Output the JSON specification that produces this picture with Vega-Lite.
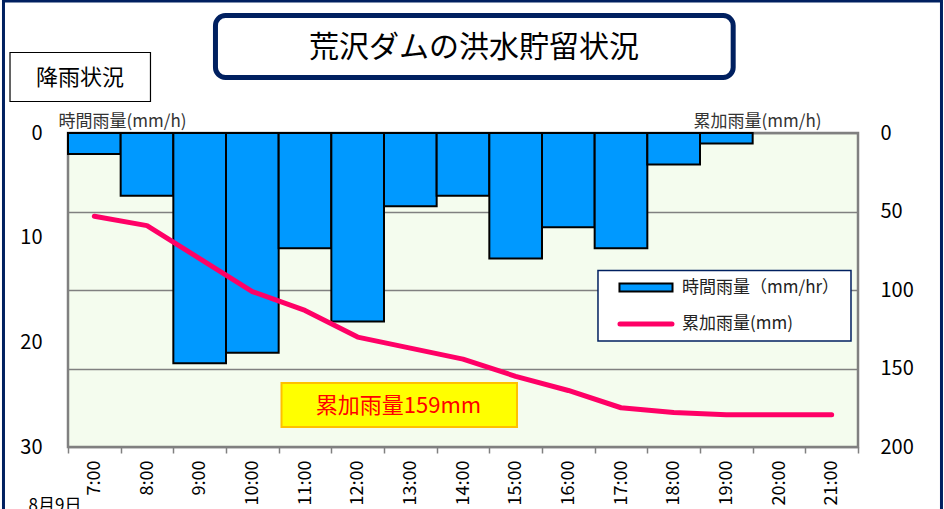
{
  "$schema": "https://vega.github.io/schema/vega-lite/v6.json",
  "width": 790,
  "height": 314,
  "autosize": {"type": "none"},
  "padding": {"left": 68, "top": 133, "right": 86, "bottom": 62},
  "background": "white",
  "config": {
    "font": "Noto Sans CJK JP",
    "view": {"fill": "#F4FCEE", "stroke": "#808080", "strokeWidth": 2.5},
    "axis": {"labelFont": "Noto Sans CJK JP", "titleFont": "Noto Sans CJK JP", "labelColor": "black"}
  },
  "data": {
    "values": [
      {"hour": "7:00", "rain": 2, "cum": 53},
      {"hour": "8:00", "rain": 6, "cum": 59},
      {"hour": "9:00", "rain": 22, "cum": 80},
      {"hour": "10:00", "rain": 21, "cum": 101},
      {"hour": "11:00", "rain": 11, "cum": 113},
      {"hour": "12:00", "rain": 18, "cum": 130},
      {"hour": "13:00", "rain": 7, "cum": 137},
      {"hour": "14:00", "rain": 6, "cum": 144},
      {"hour": "15:00", "rain": 12, "cum": 155},
      {"hour": "16:00", "rain": 9, "cum": 164},
      {"hour": "17:00", "rain": 11, "cum": 175},
      {"hour": "18:00", "rain": 3, "cum": 178},
      {"hour": "19:00", "rain": 1, "cum": 179.5},
      {"hour": "20:00", "rain": 0, "cum": 179.5},
      {"hour": "21:00", "rain": 0, "cum": 179.5}
    ]
  },
  "layer": [
    {
      "data": {"values": [{"t": "frame"}]},
      "mark": {"type": "rect", "filled": false, "stroke": "#002060", "strokeWidth": 3, "clip": false},
      "encoding": {
        "x": {"datum": -1.225, "type": "quantitative", "scale": {"domain": [0, 15], "nice": false, "zero": false}, "axis": null},
        "x2": {"datum": 16.585},
        "y": {"datum": -84.08, "type": "quantitative", "scale": {"domain": [0, 200], "reverse": true, "nice": false, "zero": false}, "axis": null},
        "y2": {"datum": 297}
      }
    },
    {
      "mark": {"type": "bar", "fill": "#0099FF", "stroke": "black", "strokeWidth": 2},
      "encoding": {
        "x": {
          "field": "hour", "type": "ordinal", "sort": null,
          "scale": {"paddingInner": 0, "paddingOuter": 0},
          "axis": {"title": null, "labelAngle": -90, "labelFontSize": 18, "labelPadding": 7, "tickBand": "extent", "tickSize": 6, "tickColor": "#808080", "tickWidth": 1.5, "domain": false}
        },
        "y": {
          "field": "rain", "type": "quantitative",
          "scale": {"domain": [0, 30], "reverse": true, "nice": false},
          "axis": {"values": [0, 10, 20, 30], "grid": false, "domain": false, "ticks": false, "labelPadding": 26, "labelFontSize": 20,
            "title": "時間雨量(mm/h)", "titleAngle": 0, "titleAlign": "left", "titleBaseline": "middle", "titleX": -10, "titleY": -12,
            "titleFontSize": 17, "titleFontWeight": "normal", "titleColor": "#333333"}
        },
        "strokeOpacity": {"condition": {"test": "datum.rain == 0", "value": 0}, "value": 1}
      }
    },
    {
      "mark": {"type": "line", "stroke": "#FF0066", "strokeWidth": 5, "strokeCap": "round", "strokeJoin": "round"},
      "encoding": {
        "x": {"field": "hour", "type": "ordinal", "sort": null, "scale": {"paddingInner": 0, "paddingOuter": 0}, "axis": null},
        "y": {
          "field": "cum", "type": "quantitative",
          "scale": {"domain": [0, 200], "reverse": true, "nice": false},
          "axis": {"orient": "right", "values": [0, 50, 100, 150, 200], "grid": true, "gridColor": "#808080", "gridWidth": 1.5,
            "domain": false, "ticks": false, "labelPadding": 22, "labelFontSize": 20,
            "title": "累加雨量(mm/h)", "titleAngle": 0, "titleAlign": "right", "titleBaseline": "middle", "titleX": -37, "titleY": -12,
            "titleFontSize": 17, "titleFontWeight": "normal", "titleColor": "#333333"}
        }
      }
    },
    {
      "data": {"values": [{"t": "title"}]},
      "mark": {"type": "rect", "fill": "white", "stroke": "#002060", "strokeWidth": 5, "cornerRadius": 10, "clip": false},
      "encoding": {
        "x": {"datum": 2.8, "type": "quantitative", "scale": {"domain": [0, 15], "nice": false, "zero": false}, "axis": null},
        "x2": {"datum": 12.63},
        "y": {"datum": -74.8, "type": "quantitative", "scale": {"domain": [0, 200], "reverse": true, "nice": false, "zero": false}, "axis": null},
        "y2": {"datum": -35.4}
      }
    },
    {
      "data": {"values": [{"t": "荒沢ダムの洪水貯留状況"}]},
      "mark": {"type": "text", "fontSize": 30, "align": "center", "baseline": "middle", "color": "black", "clip": false},
      "encoding": {
        "text": {"field": "t"},
        "x": {"datum": 7.71, "type": "quantitative", "scale": {"domain": [0, 15], "nice": false, "zero": false}, "axis": null},
        "y": {"datum": -54.1, "type": "quantitative", "scale": {"domain": [0, 200], "reverse": true, "nice": false, "zero": false}, "axis": null}
      }
    },
    {
      "data": {"values": [{"t": "box"}]},
      "mark": {"type": "rect", "fill": "white", "stroke": "black", "strokeWidth": 1.2, "clip": false},
      "encoding": {
        "x": {"datum": -1.101, "type": "quantitative", "scale": {"domain": [0, 15], "nice": false, "zero": false}, "axis": null},
        "x2": {"datum": 1.566},
        "y": {"datum": -51.27, "type": "quantitative", "scale": {"domain": [0, 200], "reverse": true, "nice": false, "zero": false}, "axis": null},
        "y2": {"datum": -20.06}
      }
    },
    {
      "data": {"values": [{"t": "降雨状況"}]},
      "mark": {"type": "text", "fontSize": 22, "align": "center", "baseline": "middle", "color": "black", "clip": false},
      "encoding": {
        "text": {"field": "t"},
        "x": {"datum": 0.228, "type": "quantitative", "scale": {"domain": [0, 15], "nice": false, "zero": false}, "axis": null},
        "y": {"datum": -35.0, "type": "quantitative", "scale": {"domain": [0, 200], "reverse": true, "nice": false, "zero": false}, "axis": null}
      }
    },
    {
      "data": {"values": [{"t": "legend"}]},
      "mark": {"type": "rect", "fill": "white", "stroke": "#002060", "strokeWidth": 1.5, "clip": false},
      "encoding": {
        "x": {"datum": 10.063, "type": "quantitative", "scale": {"domain": [0, 15], "nice": false, "zero": false}, "axis": null},
        "x2": {"datum": 14.867},
        "y": {"datum": 87.58, "type": "quantitative", "scale": {"domain": [0, 200], "reverse": true, "nice": false, "zero": false}, "axis": null},
        "y2": {"datum": 132.48}
      }
    },
    {
      "data": {"values": [{"t": "legend bar"}]},
      "mark": {"type": "rect", "fill": "#0099FF", "stroke": "black", "strokeWidth": 2, "clip": false},
      "encoding": {
        "x": {"datum": 10.471, "type": "quantitative", "scale": {"domain": [0, 15], "nice": false, "zero": false}, "axis": null},
        "x2": {"datum": 11.478},
        "y": {"datum": 95.86, "type": "quantitative", "scale": {"domain": [0, 200], "reverse": true, "nice": false, "zero": false}, "axis": null},
        "y2": {"datum": 100.96}
      }
    },
    {
      "data": {"values": [{"t": "legend line"}]},
      "mark": {"type": "rule", "stroke": "#FF0066", "strokeWidth": 5, "strokeCap": "round", "clip": false},
      "encoding": {
        "x": {"datum": 10.481, "type": "quantitative", "scale": {"domain": [0, 15], "nice": false, "zero": false}, "axis": null},
        "x2": {"datum": 11.468},
        "y": {"datum": 121.66, "type": "quantitative", "scale": {"domain": [0, 200], "reverse": true, "nice": false, "zero": false}, "axis": null}
      }
    },
    {
      "data": {"values": [{"t": "時間雨量（mm/hr）", "v": 98.73}, {"t": "累加雨量(mm)", "v": 121.66}]},
      "mark": {"type": "text", "fontSize": 17, "align": "left", "baseline": "middle", "color": "#222222", "clip": false},
      "encoding": {
        "text": {"field": "t"},
        "x": {"datum": 11.658, "type": "quantitative", "scale": {"domain": [0, 15], "nice": false, "zero": false}, "axis": null},
        "y": {"field": "v", "type": "quantitative", "scale": {"domain": [0, 200], "reverse": true, "nice": false, "zero": false}, "axis": null}
      }
    },
    {
      "data": {"values": [{"t": "yellow"}]},
      "mark": {"type": "rect", "fill": "#FFFF00", "stroke": "#FFC000", "strokeWidth": 2, "clip": false},
      "encoding": {
        "x": {"datum": 4.054, "type": "quantitative", "scale": {"domain": [0, 15], "nice": false, "zero": false}, "axis": null},
        "x2": {"datum": 8.525},
        "y": {"datum": 159.24, "type": "quantitative", "scale": {"domain": [0, 200], "reverse": true, "nice": false, "zero": false}, "axis": null},
        "y2": {"datum": 187.26}
      }
    },
    {
      "data": {"values": [{"t": "累加雨量159mm"}]},
      "mark": {"type": "text", "fontSize": 22, "align": "center", "baseline": "middle", "color": "#FF0000", "clip": false},
      "encoding": {
        "text": {"field": "t"},
        "x": {"datum": 6.275, "type": "quantitative", "scale": {"domain": [0, 15], "nice": false, "zero": false}, "axis": null},
        "y": {"datum": 174.2, "type": "quantitative", "scale": {"domain": [0, 200], "reverse": true, "nice": false, "zero": false}, "axis": null}
      }
    },
    {
      "data": {"values": [{"t": "8月9日"}]},
      "mark": {"type": "text", "fontSize": 17, "align": "center", "baseline": "middle", "color": "black", "clip": false},
      "encoding": {
        "text": {"field": "t"},
        "x": {"datum": -0.247, "type": "quantitative", "scale": {"domain": [0, 15], "nice": false, "zero": false}, "axis": null},
        "y": {"datum": 237.6, "type": "quantitative", "scale": {"domain": [0, 200], "reverse": true, "nice": false, "zero": false}, "axis": null}
      }
    }
  ],
  "resolve": {"scale": {"x": "independent", "y": "independent"}}
}
